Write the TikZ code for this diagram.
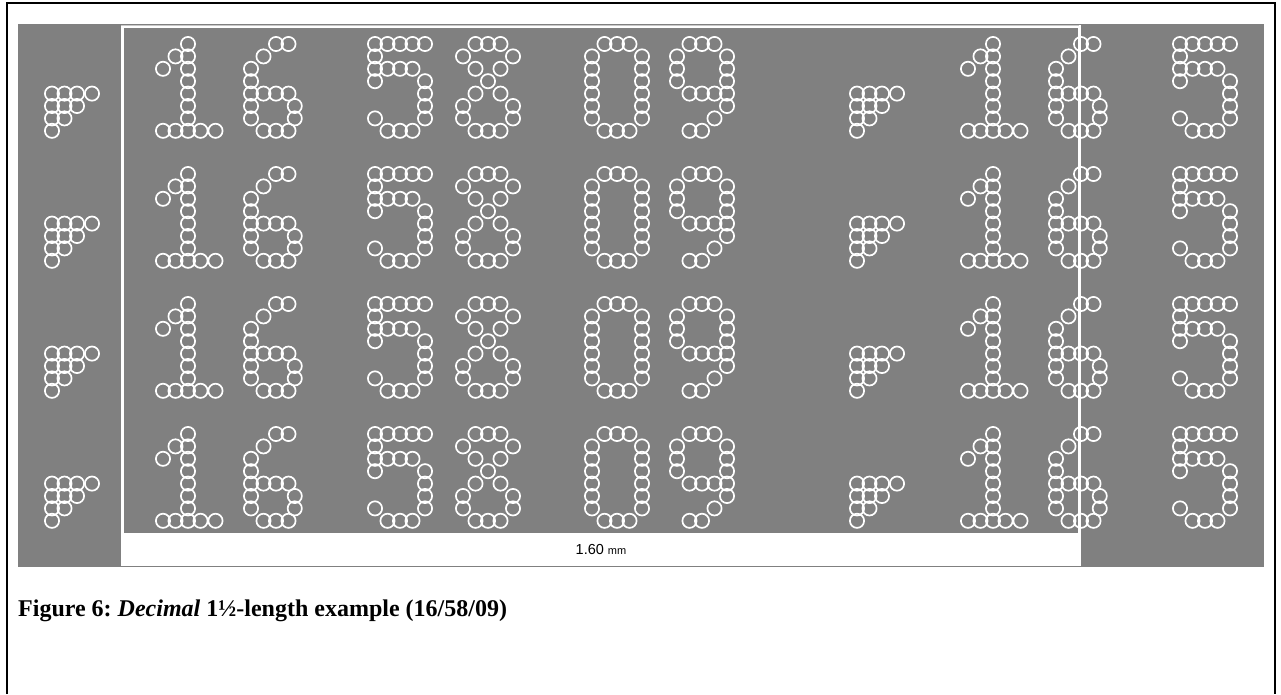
\documentclass[tikz,border=0pt]{standalone}
\usepackage{fontspec}
\setmainfont{Liberation Serif}
\newfontfamily\panelfont{Liberation Sans}
\frenchspacing

\definecolor{panelgrey}{RGB}{128,128,128}
\definecolor{edgegrey}{RGB}{200,200,200}

% dot lists (column/row) of the ink-jet glyphs
\def\glyphtri{0/4,1/4,2/4,3.2/4,0/5,1/5,2/5,0/6,1/6,0/7}
\def\glyphone{2/0,2/1,2/2,2/3,2/4,2/5,2/6,2/7,1/1,0/2,0/7,1/7,3/7,4.2/7}
\def\glyphsix{2/0,3/0,1/1,0/2,0/3,0/4,1/4,2/4,3/4,0/5,3.5/5,0/6,3.5/6,1/7,2/7,3/7}
\def\glyphfive{0/0,1/0,2/0,3/0,4/0,0/1,0/2,1/2,2/2,3/2,0/3,4/3,4/4,4/5,0/6,4/6,1/7,2/7,3/7}
\def\glypheight{1/0,2/0,3/0,0/1,4/1,1/2,3/2,2/3,1/4,3/4,0/5,4/5,0/6,4/6,1/7,2/7,3/7}
\def\glyphzero{1/0,2/0,3/0,0/1,4/1,0/2,4/2,0/3,4/3,0/4,4/4,0/5,4/5,0/6,4/6,1/7,2/7,3/7}
\def\glyphnine{1/0,2/0,3/0,0/1,4/1,0/2,4/2,0/3,4/3,1/4,2/4,3/4,4/4,4/5,3/6,1/7,2/7}

\newcommand{\inkglyph}[3]{%
  \foreach \c/\r in #1 {
    \draw[inkdot] ({#2+\c*12.5},{#3+\r*12.4}) circle[radius=7.1pt];
  }}

\begin{document}
\begin{tikzpicture}[x=1pt, y=-1pt,
    inkdot/.style={draw=white, line width=1.7pt}]
    \useasboundingbox (0,0) rectangle (1281,694);
    \fill[white] (0,0) rectangle (1281,694);

    \draw[line width=2.5pt] (7,694) -- (7,3) -- (1275,3) -- (1275,694);

    \fill[panelgrey] (18,24) rectangle (1264,567);
    \fill[white] (121,25) rectangle (1081,566);
    \fill[panelgrey] (124,28) rectangle (1078,533);
    \draw[edgegrey, line width=1pt] (121,25.5) -- (1081,25.5);

    \foreach \ly in {44,174,304,434} {
      \foreach \px in {0,805} {
        \inkglyph{\glyphtri}{52+\px}{\ly}
        \inkglyph{\glyphone}{163+\px}{\ly}
        \inkglyph{\glyphsix}{251+\px}{\ly}
        \inkglyph{\glyphfive}{375+\px}{\ly}
      }
      \inkglyph{\glypheight}{463}{\ly}
      \inkglyph{\glyphzero}{592}{\ly}
      \inkglyph{\glyphnine}{677}{\ly}
    }

    \draw[white, line width=2pt] (1079.5,25) -- (1079.5,566);

    \node[font=\panelfont\fontsize{14.5}{16}\selectfont] (scalelabel) at (601,549)
      {1.60 {\fontsize{11}{12}\selectfont mm}};

    \node[anchor=base west, inner sep=0pt, font=\bfseries\fontsize{24}{28}\selectfont]
      (caption) at (18,616) {Figure 6: \textit{Decimal} 1½-length example (16/58/09)};
\end{tikzpicture}
\end{document}
